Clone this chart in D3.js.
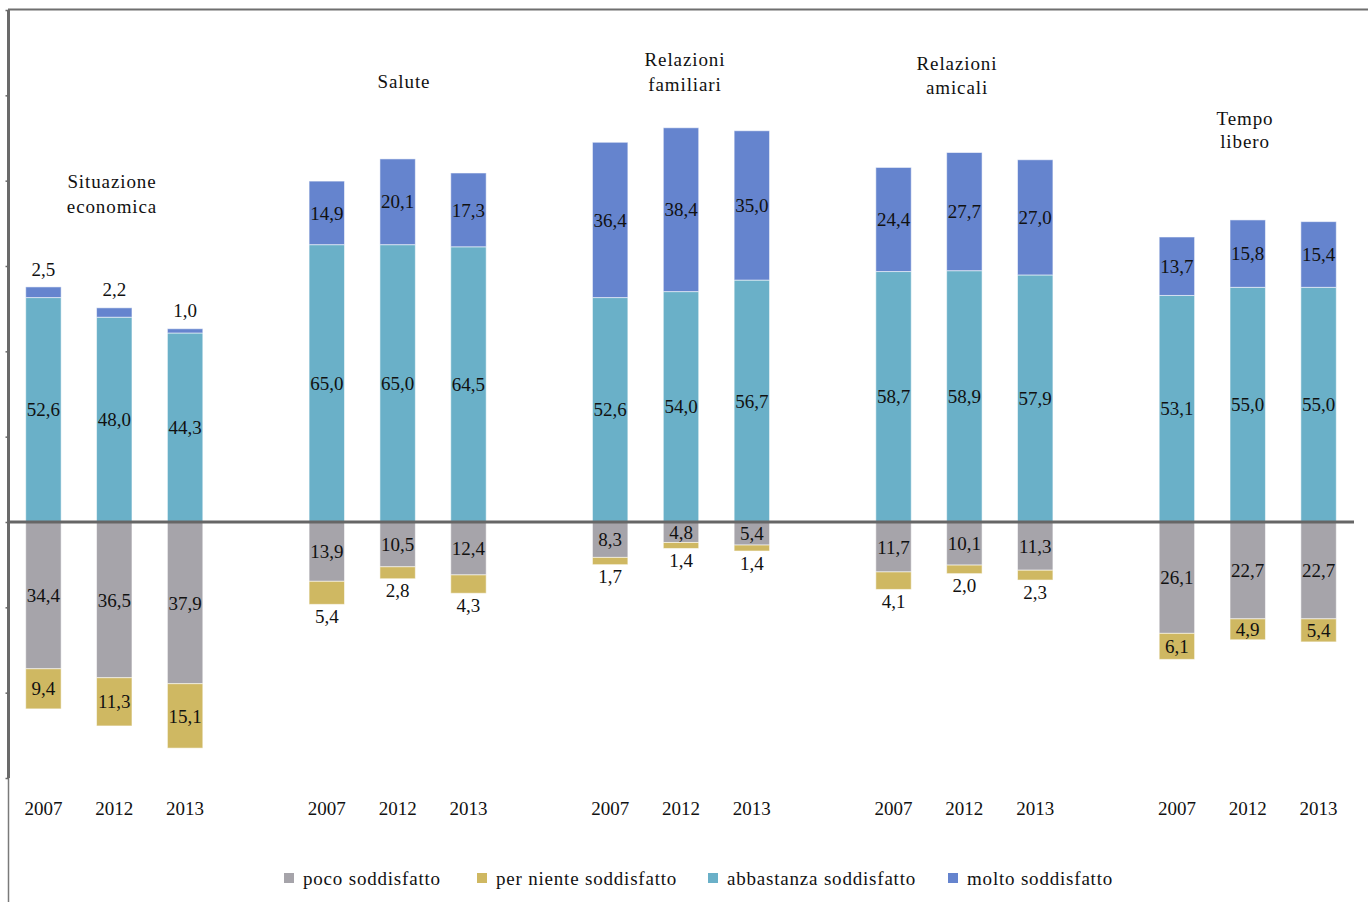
<!DOCTYPE html>
<html>
<head>
<meta charset="utf-8">
<script src="https://cdn.jsdelivr.net/npm/d3@7"></script>
<style>
  html, body { margin: 0; padding: 0; background: #fff; }
  svg { display: block; }
  text { font-family: "Liberation Serif", "DejaVu Serif", serif; fill: #111; }
</style>
</head>
<body>
<svg id="chart" width="1368" height="902"></svg>
<script>
// ---- data ----
const groups = ["Situazione economica", "Salute", "Relazioni familiari", "Relazioni amicali", "Tempo libero"];
const groupTitles = [["Situazione", "economica"], ["Salute"], ["Relazioni", "familiari"], ["Relazioni", "amicali"], ["Tempo", "libero"]];
const years = ["2007", "2012", "2013"];
const seriesNames = ["poco soddisfatto", "per niente soddisfatto", "abbastanza soddisfatto", "molto soddisfatto"];
const molto = [2.5, 2.2, 1.0, 14.9, 20.1, 17.3, 36.4, 38.4, 35.0, 24.4, 27.7, 27.0, 13.7, 15.8, 15.4];
const abbastanza = [52.6, 48.0, 44.3, 65.0, 65.0, 64.5, 52.6, 54.0, 56.7, 58.7, 58.9, 57.9, 53.1, 55.0, 55.0];
const poco = [34.4, 36.5, 37.9, 13.9, 10.5, 12.4, 8.3, 4.8, 5.4, 11.7, 10.1, 11.3, 26.1, 22.7, 22.7];
const perNiente = [9.4, 11.3, 15.1, 5.4, 2.8, 4.3, 1.7, 1.4, 1.4, 4.1, 2.0, 2.3, 6.1, 4.9, 5.4];
const yTicks = [-60, -40, -20, 0, 20, 40, 60, 80, 100, 120];

// ---- layout / styles ----
const colors = { poco: "#a6a4aa", niente: "#cfb862", abb: "#6ab0c8", molto: "#6584ce" };
const plot = { left: 8, right: 1354, top: 10, bottom: 778 };
const titleLayout = [ {x: 112, y: 181, lh: 25}, {x: 404, y: 81, lh: 25}, {x: 685, y: 59, lh: 25}, {x: 957, y: 63, lh: 24}, {x: 1245, y: 118, lh: 23} ];
// per-niente labels drawn below the bar (small segments)
const nienteBelow = new Set([3, 4, 5, 6, 7, 8, 9, 10, 11]);
const moltoAbove = new Set([0, 1, 2]);

const svg = d3.select("#chart");
const fmt = v => d3.format(".1f")(v).replace(".", ",");

// slots: 3 years per group plus a gap slot between groups
const slots = [];
groups.forEach((g, gi) => {
  years.forEach(y => slots.push(g + "|" + y));
  if (gi < groups.length - 1) slots.push("gap" + gi);
});

const x = d3.scaleBand().domain(slots).range([plot.left, plot.right]).paddingInner(0.5).paddingOuter(0.25);
const y = d3.scaleLinear().domain([-60, 120]).range([plot.bottom, plot.top]);

// frame lines
svg.append("line").attr("x1", 8).attr("x2", 1368).attr("y1", 9.5).attr("y2", 9.5)
  .attr("stroke", "#6f6f6f").attr("stroke-width", 2);
svg.append("line").attr("x1", 8.5).attr("x2", 8.5).attr("y1", plot.bottom).attr("y2", 902)
  .attr("stroke", "#7a7a7a").attr("stroke-width", 1.5);

// records
const recs = [];
groups.forEach((g, gi) => years.forEach((yr, yi) => {
  const i = gi * 3 + yi;
  recs.push({ i, key: g + "|" + yr, year: yr, molto: molto[i], abb: abbastanza[i], poco: poco[i], niente: perNiente[i] });
}));

const segs = [];
recs.forEach(r => {
  segs.push({ r, s: "abb", y0: 0, y1: r.abb, v: r.abb });
  segs.push({ r, s: "molto", y0: r.abb, y1: r.abb + r.molto, v: r.molto });
  segs.push({ r, s: "poco", y0: 0, y1: -r.poco, v: r.poco });
  segs.push({ r, s: "niente", y0: -r.poco, y1: -r.poco - r.niente, v: r.niente });
});

svg.append("g").selectAll("rect").data(segs).join("rect")
  .attr("x", d => x(d.r.key))
  .attr("width", x.bandwidth())
  .attr("y", d => Math.min(y(d.y0), y(d.y1)))
  .attr("height", d => Math.abs(y(d.y0) - y(d.y1)))
  .attr("fill", d => colors[d.s])
  .attr("stroke", "rgba(255,255,255,0.55)")
  .attr("stroke-width", 1);

// y axis with tiny ticks, no labels
const yAxis = svg.append("g").attr("transform", `translate(${plot.left + 0.5},0)`)
  .call(d3.axisLeft(y).tickValues(yTicks).tickSize(3).tickFormat(""));
yAxis.select(".domain").attr("stroke", "#6a6a6a").attr("stroke-width", 3)
  .attr("d", `M0,${plot.top}V${plot.bottom}`);
yAxis.selectAll(".tick line").attr("stroke", "#6a6a6a").attr("stroke-width", 1.5);

// zero line
svg.append("line").attr("x1", plot.left).attr("x2", plot.right).attr("y1", y(0)).attr("y2", y(0))
  .attr("stroke", "#666", ).attr("stroke-width", 3);

// value labels
const lab = svg.append("g").attr("font-size", 19).attr("text-anchor", "middle");
segs.forEach(d => {
  let cy = (y(d.y0) + y(d.y1)) / 2;
  if (d.s === "molto" && moltoAbove.has(d.r.i)) cy = y(d.y1) - 18;
  if (d.s === "niente" && nienteBelow.has(d.r.i)) cy = y(d.y1) + 12;
  lab.append("text").attr("x", x(d.r.key) + x.bandwidth() / 2).attr("y", cy)
    .attr("dy", "0.35em").text(fmt(d.v));
});

// year labels
svg.append("g").attr("font-size", 19).attr("text-anchor", "middle")
  .selectAll("text").data(recs).join("text")
  .attr("x", d => x(d.key) + x.bandwidth() / 2).attr("y", 808).attr("dy", "0.35em")
  .text(d => d.year);

// group titles
groupTitles.forEach((lines, gi) => {
  const L = titleLayout[gi];
  const t = svg.append("text").attr("font-size", 19).attr("text-anchor", "middle")
    .attr("letter-spacing", 0.9);
  lines.forEach((ln, li) => t.append("tspan").attr("x", L.x).attr("y", L.y + li * L.lh).attr("dy", "0.35em").text(ln));
});

// legend
const legendX = [284, 477, 708, 948];
const legendKeys = ["poco", "niente", "abb", "molto"];
const lg = svg.append("g");
seriesNames.forEach((n, k) => {
  lg.append("rect").attr("x", legendX[k]).attr("y", 873).attr("width", 10).attr("height", 10).attr("fill", colors[legendKeys[k]]);
  lg.append("text").attr("x", legendX[k] + 19).attr("y", 878).attr("dy", "0.35em")
    .attr("font-size", 19).attr("letter-spacing", 0.8).text(n);
});
</script>
</body>
</html>
